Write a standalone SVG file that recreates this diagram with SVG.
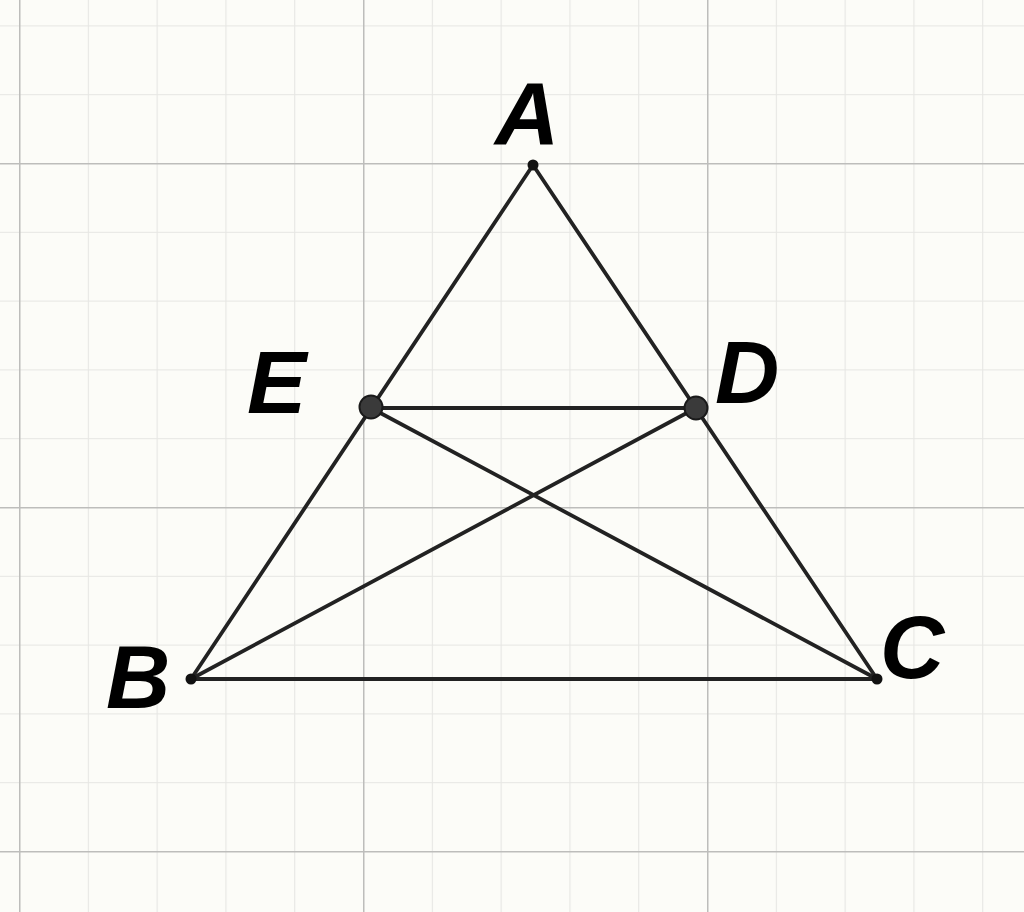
<svg xmlns="http://www.w3.org/2000/svg" width="1024" height="912" viewBox="0 0 1024 912">
<defs>
<pattern id="minor" x="19" y="163" width="68.8" height="68.8" patternUnits="userSpaceOnUse">
<path d="M0 0H68.8M0 0V68.8" fill="none" stroke="#e6e6e3" stroke-width="2.2"/>
</pattern>
<pattern id="major" x="19" y="163" width="344" height="344" patternUnits="userSpaceOnUse">
<path d="M0 0H344M0 0V344" fill="none" stroke="#bdbdbb" stroke-width="3"/>
</pattern>
</defs>
<style>
.seg{stroke:#222;stroke-width:3.8;fill:none;stroke-linecap:round}
.lbl{font-family:"Liberation Sans",Arial,sans-serif;font-weight:bold;font-style:italic;font-size:89px;fill:#000}
.big{fill:#3a3a3a;stroke:#1a1a1a;stroke-width:2}
.small{fill:#111}
</style>
<rect width="1024" height="912" fill="#fcfcf8"/>
<rect width="1024" height="912" fill="url(#minor)"/>
<rect width="1024" height="912" fill="url(#major)"/>
<g id="connectors">
<line class="seg" x1="533" y1="165" x2="191" y2="679"/>
<line class="seg" x1="533" y1="165" x2="877" y2="679"/>
<line class="seg" x1="191" y1="679" x2="877" y2="679"/>
<line class="seg" x1="371" y1="408" x2="696" y2="408"/>
<line class="seg" x1="371" y1="408" x2="877" y2="679"/>
<line class="seg" x1="696" y1="408" x2="191" y2="679"/>
</g>
<g id="A"><circle class="small" cx="533" cy="165" r="5.5"/><text class="lbl" x="495" y="145">A</text></g>
<g id="B"><circle class="small" cx="191" cy="679" r="5.5"/><text class="lbl" x="106" y="708">B</text></g>
<g id="C"><circle class="small" cx="877" cy="679" r="5.5"/><text class="lbl" x="880" y="678">C</text></g>
<g id="D"><circle class="big" cx="696" cy="408" r="11.5"/><text class="lbl" x="715" y="403">D</text></g>
<g id="E"><circle class="big" cx="371" cy="407" r="11.5"/><text class="lbl" x="247" y="413">E</text></g>
</svg>
